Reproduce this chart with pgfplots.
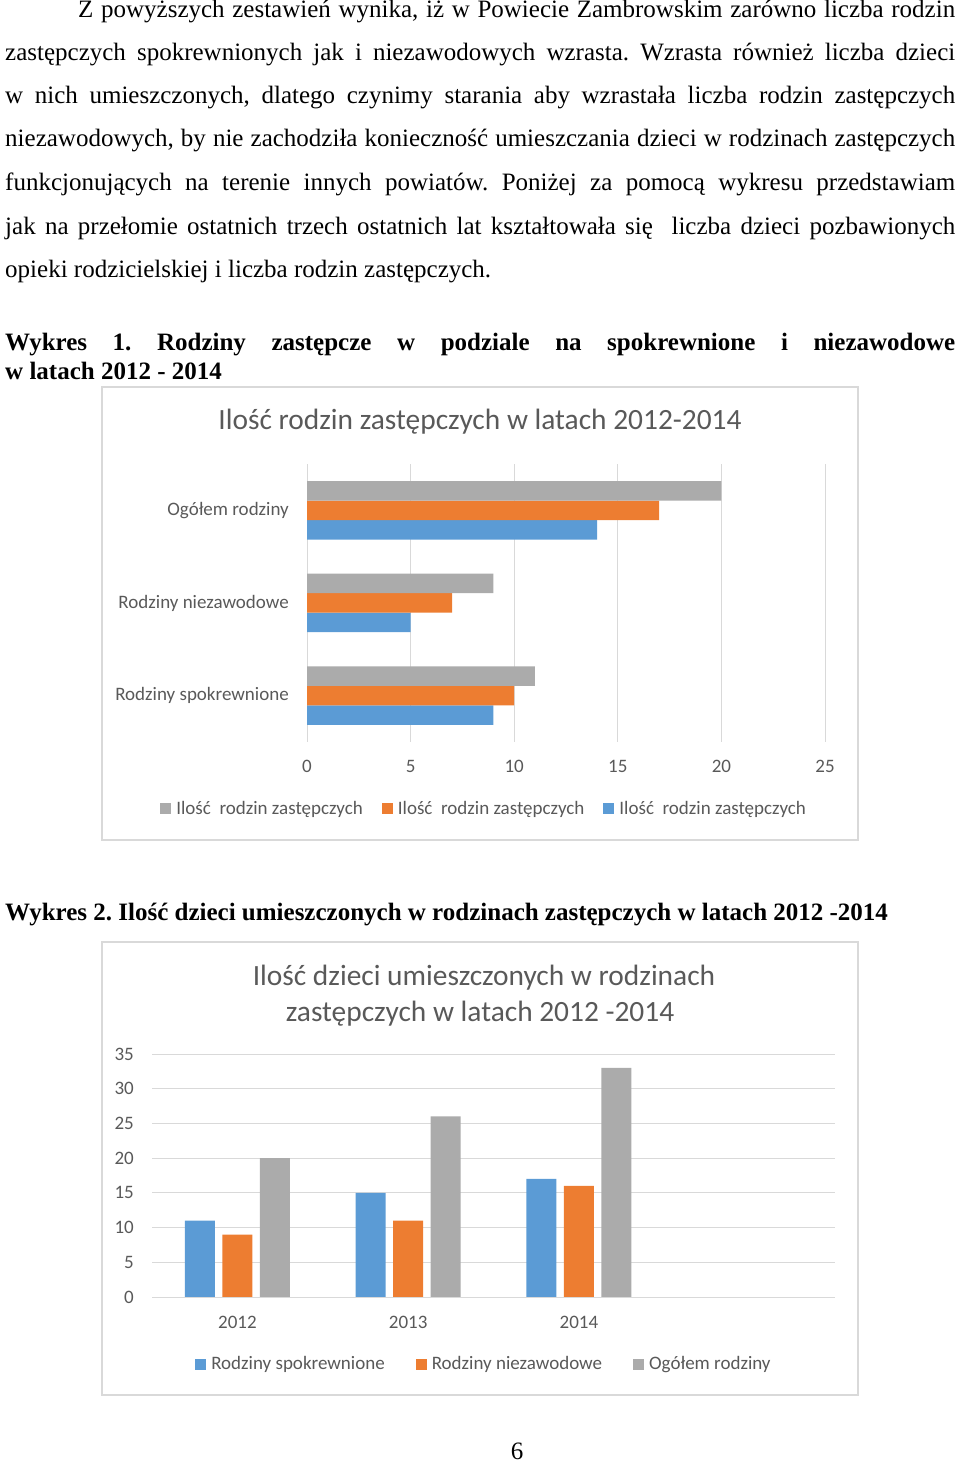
\documentclass[border=0pt]{standalone}
\usepackage{pgfplots}
\pgfplotsset{compat=1.18}
\usepackage{fontspec}
\setmainfont{Liberation Serif}
\newfontfamily\calibri{Carlito}
\definecolor{cblue}{HTML}{5B9BD5}
\definecolor{corange}{HTML}{ED7D31}
\definecolor{cgray}{HTML}{ABABAB}
\definecolor{cgrid}{HTML}{D9D9D9}
\definecolor{ctext}{HTML}{595959}
\newcommand\body{\frenchspacing\fontsize{25}{30}\selectfont}
\newcommand\chl{\calibri\fontsize{19}{22}\selectfont}
\newcommand\cht{\calibri\fontsize{29.4}{35}\selectfont}
\begin{document}
\frenchspacing
\begin{tikzpicture}
\path[use as bounding box] (0pt,0pt) rectangle (960pt,1464pt);
% body text
\begin{scope}[every node/.style={anchor=base west, inner sep=0pt}]
\node at (78pt,1446pt) {\body\makebox[877pt][s]{Z powyższych zestawień wynika, iż w Powiecie Zambrowskim zarówno liczba rodzin}};
\node at (5pt,1403pt) {\body\makebox[950pt][s]{zastępczych spokrewnionych jak i niezawodowych wzrasta. Wzrasta również liczba dzieci}};
\node at (5pt,1360pt) {\body\makebox[950pt][s]{w nich umieszczonych, dlatego czynimy starania aby wzrastała liczba rodzin zastępczych}};
\node at (5pt,1317pt) {\body\makebox[950pt][s]{niezawodowych, by nie zachodziła konieczność umieszczania dzieci w rodzinach zastępczych}};
\node at (5pt,1273pt) {\body\makebox[950pt][s]{funkcjonujących na terenie innych powiatów. Poniżej za pomocą wykresu przedstawiam}};
\node at (5pt,1229pt) {\body\makebox[950pt][s]{jak na przełomie ostatnich trzech ostatnich lat kształtowała się\ \ liczba dzieci pozbawionych}};
\node at (5pt,1186pt) {\body opieki rodzicielskiej i liczba rodzin zastępczych.};
\node at (5pt,1113pt) {\body\bfseries\makebox[950pt][s]{Wykres 1. Rodziny zastępcze w podziale na spokrewnione i niezawodowe}};
\node at (5pt,1084pt) {\body\bfseries w latach 2012 - 2014};
\node at (5pt,543pt) {\body\bfseries Wykres 2. Ilość dzieci umieszczonych w rodzinach zastępczych w latach 2012 -2014};
\end{scope}
\node[anchor=base, inner sep=0pt] at (517pt,5pt) {\body 6};
% frames
\draw[cgrid, line width=1.2pt] (102pt,624pt) rectangle (858pt,1077pt);
\draw[cgrid, line width=1.2pt] (102pt,69pt) rectangle (858pt,522pt);
% titles
\node[anchor=base, inner sep=0pt, text=ctext] at (480pt,1034pt) {\cht Ilość rodzin zastępczych w latach 2012-2014};
\node[anchor=base, inner sep=0pt, text=ctext] at (484pt,478pt) {\cht Ilość dzieci umieszczonych w rodzinach};
\node[anchor=base, inner sep=0pt, text=ctext] at (480pt,442pt) {\cht zastępczych w latach 2012 -2014};

% chart 1
\begin{axis}[
  at={(307pt,722pt)}, anchor=south west,
  scale only axis, width=518pt, height=278pt,
  xbar, bar width=19.5pt,
  xmin=0, xmax=25, xtick={0,5,...,25},
  ymin=-0.5, ymax=2.5, ytick={0,1,2},
  yticklabels={Rodziny spokrewnione, Rodziny niezawodowe, Ogółem rodziny},
  xmajorgrids, major grid style={cgrid, line width=0.8pt},
  axis line style={draw=none}, major tick length=0pt,
  /pgf/number format/assume math mode=true,
  tick label style={font=\chl, text=ctext, inner sep=0pt},
  xticklabel style={anchor=center, yshift=-24pt},
  yticklabel style={anchor=east, xshift=-18pt},
  legend style={at={(0.342,-0.241)}, anchor=center, draw=none, legend columns=3,
    font=\chl, text=ctext, cells={anchor=west},
    /tikz/every even column/.append style={column sep=17pt},
    /tikz/every odd column/.append style={column sep=3pt}},
  reverse legend,
  legend image code/.code={\fill[#1] (0pt,-5.5pt) rectangle (11pt,5.5pt);},
]
\addplot[fill=cblue, draw=none, bar shift=-19.5pt] coordinates {(9,0) (5,1) (14,2)};
\addplot[fill=corange, draw=none, bar shift=0pt] coordinates {(10,0) (7,1) (17,2)};
\addplot[fill=cgray, draw=none, bar shift=19.5pt] coordinates {(11,0) (9,1) (20,2)};
\legend{Ilość\ \ rodzin zastępczych, Ilość\ \ rodzin zastępczych, Ilość\ \ rodzin zastępczych}
\end{axis}

% chart 2
\begin{axis}[
  at={(152pt,167pt)}, anchor=south west,
  scale only axis, width=683pt, height=243pt,
  ybar, bar width=30pt,
  ymin=0, ymax=35, ytick={0,5,...,35},
  xmin=-0.5, xmax=3.5, xtick={0,1,2},
  xticklabels={2012,2013,2014},
  ymajorgrids, major grid style={cgrid, line width=0.8pt},
  axis line style={draw=none}, major tick length=0pt,
  /pgf/number format/assume math mode=true,
  tick label style={font=\chl, text=ctext, inner sep=0pt},
  xticklabel style={anchor=center, yshift=-25pt},
  yticklabel style={anchor=east, xshift=-18pt},
  legend style={at={(0.486,-0.276)}, anchor=center, draw=none, legend columns=3,
    font=\chl, text=ctext, cells={anchor=west},
    /tikz/every even column/.append style={column sep=29pt},
    /tikz/every odd column/.append style={column sep=3pt}},
  legend image code/.code={\fill[#1] (0pt,-5.5pt) rectangle (11pt,5.5pt);},
]
\addplot[fill=cblue, draw=none, bar shift=-37.5pt] coordinates {(0,11) (1,15) (2,17)};
\addplot[fill=corange, draw=none, bar shift=0pt] coordinates {(0,9) (1,11) (2,16)};
\addplot[fill=cgray, draw=none, bar shift=37.5pt] coordinates {(0,20) (1,26) (2,33)};
\legend{Rodziny spokrewnione, Rodziny niezawodowe, Ogółem rodziny}
\end{axis}
\end{tikzpicture}
\end{document}
